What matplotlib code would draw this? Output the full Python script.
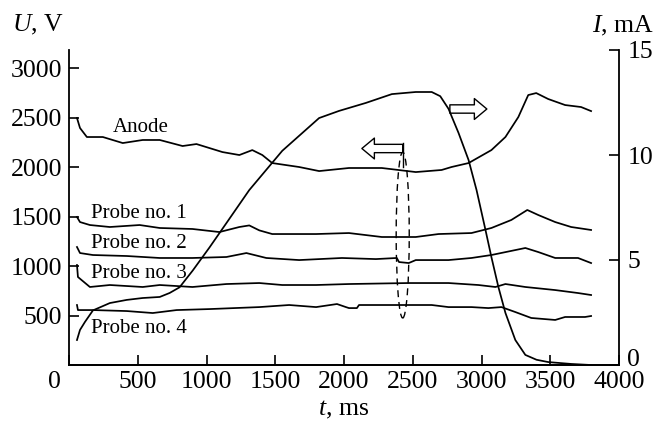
import matplotlib as mpl
mpl.use('Agg')
import matplotlib.pyplot as plt
from matplotlib.patches import Ellipse, FancyArrowPatch
from matplotlib.transforms import ScaledTranslation

plt.rcParams['font.family'] = 'Liberation Serif'
plt.rcParams['mathtext.fontset'] = 'custom'
plt.rcParams['mathtext.rm'] = 'Liberation Serif'
plt.rcParams['mathtext.it'] = 'Liberation Serif:italic'

# discharge current, mA (right axis)
t_cur = [58, 80, 116, 174, 297, 420, 536, 660, 732, 804, 900, 1022, 1145, 1311, 1551, 1819,
         1964, 2159, 2348, 2522, 2638, 2700, 2760, 2833, 2906, 2964, 3029, 3072, 3123,
         3174, 3246, 3319, 3400, 3485, 3652, 3797]
i_cur = [1.19, 1.67, 2.05, 2.6, 2.95, 3.1, 3.19, 3.24, 3.43, 3.7, 4.5, 5.6, 6.76, 8.33, 10.2,
         11.76, 12.1, 12.48, 12.9, 13.0, 13.0, 12.8, 12.2, 11.05, 9.76, 8.33, 6.43, 5.14, 3.71,
         2.48, 1.19, 0.48, 0.25, 0.14, 0.05, 0.0]

# voltages, V (left axis)
t_anode = [58, 80, 130, 246, 391, 536, 660, 826, 927, 1116, 1239, 1333, 1406, 1478, 1674,
           1819, 2036, 2275, 2522, 2710, 2782, 2906, 3072, 3174, 3268, 3340, 3398, 3485,
           3608, 3724, 3797]
u_anode = [2495, 2394, 2303, 2303, 2242, 2273, 2273, 2212, 2232, 2151, 2121, 2171, 2121, 2040,
           2000, 1959, 1990, 1990, 1949, 1970, 2000, 2040, 2171, 2303, 2505, 2727, 2747, 2687,
           2626, 2606, 2565]

t_p1 = [58, 80, 152, 297, 514, 660, 898, 1094, 1239, 1311, 1384, 1478, 1797, 2036, 2275,
        2522, 2688, 2927, 3072, 3217, 3333, 3413, 3536, 3652, 3797]
u_p1 = [1495, 1444, 1414, 1394, 1414, 1384, 1374, 1343, 1394, 1410, 1360, 1323, 1323, 1333,
        1293, 1293, 1323, 1333, 1384, 1465, 1566, 1515, 1444, 1394, 1364]

t_p2 = [58, 80, 174, 420, 660, 898, 1145, 1290, 1435, 1674, 1985, 2232, 2384, 2400, 2471,
        2522, 2760, 2927, 3072, 3319, 3413, 3536, 3702, 3797]
u_p2 = [1192, 1131, 1111, 1101, 1081, 1081, 1091, 1131, 1081, 1060, 1081, 1070, 1081, 1040,
        1030, 1060, 1060, 1081, 1111, 1182, 1141, 1081, 1081, 1030]

t_p3 = [58, 65, 152, 297, 536, 660, 898, 1145, 1384, 1551, 1797, 2036, 2471, 2760, 2978,
        3101, 3174, 3319, 3536, 3702, 3797]
u_p3 = [1010, 889, 788, 808, 788, 808, 788, 818, 828, 808, 808, 818, 828, 828, 808, 788,
        818, 788, 757, 727, 707]

t_p4 = [58, 65, 174, 420, 609, 783, 1022, 1384, 1601, 1797, 1949, 2014, 2036, 2094, 2109,
        2377, 2638, 2760, 2927, 3050, 3145, 3246, 3362, 3536, 3608, 3753, 3797]
u_p4 = [606, 555, 555, 545, 525, 555, 565, 585, 606, 585, 616, 585, 575, 575, 606, 606, 606,
        585, 585, 575, 585, 535, 475, 455, 485, 485, 495]

x_ticks = [0, 500, 1000, 1500, 2000, 2500, 3000, 3500, 4000]
u_ticks = [500, 1000, 1500, 2000, 2500, 3000]
i_ticks = [0, 5, 10, 15]

fig = plt.figure(figsize=(6.55, 4.21), dpi=100)
ax = fig.add_axes([69 / 655, 1 - 365 / 421, 550 / 655, 315 / 421])
ax2 = ax.twinx()

lw = 1.25
for t, u in [(t_anode, u_anode), (t_p1, u_p1), (t_p2, u_p2), (t_p3, u_p3), (t_p4, u_p4)]:
    ax.plot(t, u, color='black', lw=lw)
ax2.plot(t_cur, i_cur, color='black', lw=lw)

ax.set_xlim(0, 4000)
ax.set_ylim(0, 3182)
ax2.set_ylim(0, 15)
ax.set_xticks(x_ticks)
ax.set_yticks(u_ticks)
ax2.set_yticks(i_ticks)

for a in (ax, ax2):
    a.spines['top'].set_visible(False)
    for s in a.spines.values():
        s.set_linewidth(1.3)
    a.tick_params(direction='in', length=7, width=1.2, labelsize=18.5)
ax.spines['right'].set_visible(False)
ax2.spines['left'].set_visible(False)
ax.tick_params(axis='x', pad=4)
ax.tick_params(axis='y', pad=5)
ax2.tick_params(axis='y', pad=6)

# the "0" of the time axis sits left of the corner, the current "0" a bit raised
lab0 = ax.get_xticklabels()[0]
lab0.set_transform(lab0.get_transform() + ScaledTranslation(-0.15, 0, fig.dpi_scale_trans))
lab_i0 = ax2.get_yticklabels()[0]
lab_i0.set_transform(lab_i0.get_transform() + ScaledTranslation(0, 0.08, fig.dpi_scale_trans))

# curve labels
txt = dict(fontsize=15, ha='left', va='baseline')
ax.text(320, 2353, 'Anode', **txt)
ax.text(160, 1485, 'Probe no. 1', **txt)
ax.text(160, 1182, 'Probe no. 2', **txt)
ax.text(160, 879, 'Probe no. 3', **txt)
ax.text(160, 323, 'Probe no. 4', **txt)

# axis titles
fig.text(12 / 655, 1 - 31 / 421, '$U$, V', fontsize=18.5, ha='left', va='baseline')
fig.text(654 / 655, 1 - 32 / 421, '$I$, mA', fontsize=18.5, ha='right', va='baseline')
fig.text(344 / 655, 1 - 415 / 421, '$t$, ms', fontsize=18.5, ha='center', va='baseline')

# dashed loop marking the moment and hollow arrows to the axes
ax.add_patch(Ellipse((2427, 1313), 95, 1677, fill=False, ls=(0, (5, 3.5)), lw=1.0,
                     color='black'))
ax.plot([2427, 2427], [2000, 2242], color='black', lw=1.0)
arrow_style = 'simple,head_length=9,head_width=15,tail_width=6'
ax.add_patch(FancyArrowPatch((2427, 2187), (2130, 2187), arrowstyle=arrow_style,
                             shrinkA=0, shrinkB=0, fc='white', ec='black', lw=1.0, zorder=5))
ax.add_patch(FancyArrowPatch((2770, 2586), (3039, 2586), arrowstyle=arrow_style,
                             shrinkA=0, shrinkB=0, fc='white', ec='black', lw=1.0, zorder=5))

fig.savefig('out.png', dpi=100)
